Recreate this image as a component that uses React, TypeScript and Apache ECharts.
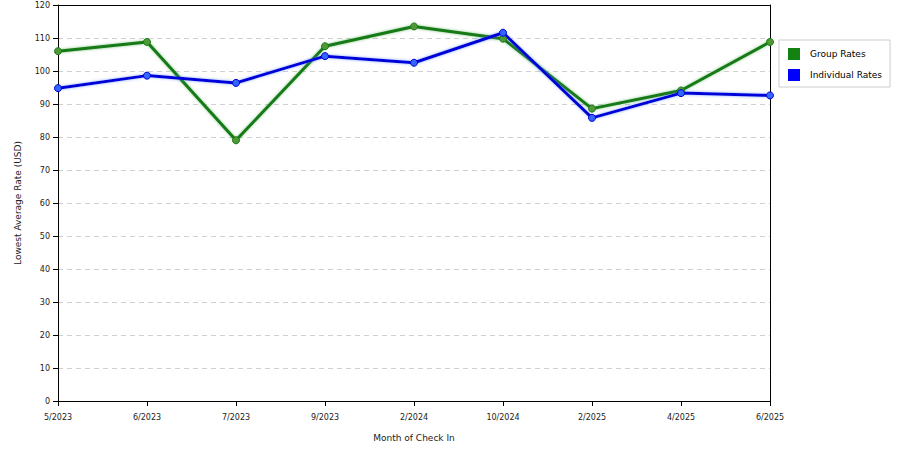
import React, { useEffect, useRef } from "react";
import * as echarts from "echarts";

const months = ["5/2023", "6/2023", "7/2023", "9/2023", "2/2024", "10/2024", "2/2025", "4/2025", "6/2025"];
const groupRates = [106, 108.8, 79, 107.5, 113.5, 109.8, 88.6, 94.1, 108.8];
const individualRates = [94.8, 98.6, 96.4, 104.5, 102.5, 111.6, 85.8, 93.3, 92.6];

const font = "DejaVu Sans";

const App: React.FC = () => {
  const chartRef = useRef<HTMLDivElement>(null);

  useEffect(() => {
    if (!chartRef.current) return;
    const chart = echarts.init(chartRef.current, undefined, { renderer: "svg" });

    const frameAxis = {
      axisLine: { show: true, onZero: false, lineStyle: { color: "#000", width: 1 } },
      axisTick: { show: false },
      axisLabel: { show: false },
      splitLine: { show: false },
    };

    const option: echarts.EChartsOption = {
      animation: false,
      backgroundColor: "#fff",
      textStyle: { fontFamily: font },
      grid: {
        left: 58,
        right: 130,
        top: 5,
        bottom: 49,
        outerBoundsMode: "none",
      } as any,
      legend: {
        orient: "vertical",
        left: 779,
        top: 40,
        padding: [8, 8, 6, 9],
        itemGap: 9,
        itemWidth: 12,
        itemHeight: 12,
        icon: "rect",
        borderColor: "#ccc",
        borderWidth: 1,
        textStyle: { fontSize: 9, color: "#000", fontFamily: font, padding: [0, 0, 0, 5] },
        data: [
          { name: "Group Rates", itemStyle: { color: "#128212", borderWidth: 0 } },
          { name: "Individual Rates", itemStyle: { color: "#0000ff", borderWidth: 0 } },
        ],
      },
      xAxis: [
        {
          type: "category",
          data: months,
          boundaryGap: false,
          name: "Month of Check In",
          nameLocation: "middle",
          nameGap: 32,
          nameTextStyle: { fontSize: 9, color: "#222", fontFamily: font },
          axisLine: { lineStyle: { color: "#000", width: 1 } },
          axisTick: { show: true, length: 5, lineStyle: { color: "#000" }, alignWithLabel: true },
          axisLabel: { fontSize: 8, color: "#222", margin: 12, fontFamily: font },
          splitLine: { show: false },
        },
        {
          type: "category",
          data: months,
          boundaryGap: false,
          position: "top",
          ...frameAxis,
        },
      ],
      yAxis: [
        {
          type: "value",
          min: 0,
          max: 120,
          interval: 10,
          name: "Lowest Average Rate (USD)",
          nameLocation: "middle",
          nameGap: 36,
          nameTextStyle: { fontSize: 9, color: "#222", fontFamily: font },
          axisLine: { show: true, lineStyle: { color: "#000", width: 1 } },
          axisTick: { show: true, length: 5, lineStyle: { color: "#000" } },
          axisLabel: { fontSize: 8, color: "#222", margin: 8, fontFamily: font, showMaxLabel: true },
          splitLine: { show: true, lineStyle: { color: "#d0d0d0", type: [5, 4], width: 1 } },
        },
        {
          type: "value",
          min: 0,
          max: 120,
          interval: 10,
          position: "right",
          ...frameAxis,
        },
      ],
      series: [
        {
          name: "Group Rates",
          type: "line",
          data: groupRates,
          symbol: "circle",
          symbolSize: 7,
          color: "#128212",
          lineStyle: { width: 3, color: "#137a13", shadowColor: "rgba(60,160,60,0.6)", shadowBlur: 3 },
          itemStyle: { color: "#4f9a35", borderColor: "#1a7a1a", borderWidth: 1 },
        },
        {
          name: "Individual Rates",
          type: "line",
          data: individualRates,
          symbol: "circle",
          symbolSize: 7,
          color: "#0000ff",
          lineStyle: { width: 3, color: "#0000d8", shadowColor: "rgba(80,120,255,0.6)", shadowBlur: 3 },
          itemStyle: { color: "#3366ff", borderColor: "#0000d8", borderWidth: 1 },
        },
      ],
    };

    chart.setOption(option);
    return () => {
      chart.dispose();
    };
  }, []);

  return (
    <div
      ref={chartRef}
      style={{ position: "absolute", left: 0, top: 0, width: "900px", height: "450px" }}
    />
  );
};

export default App;
